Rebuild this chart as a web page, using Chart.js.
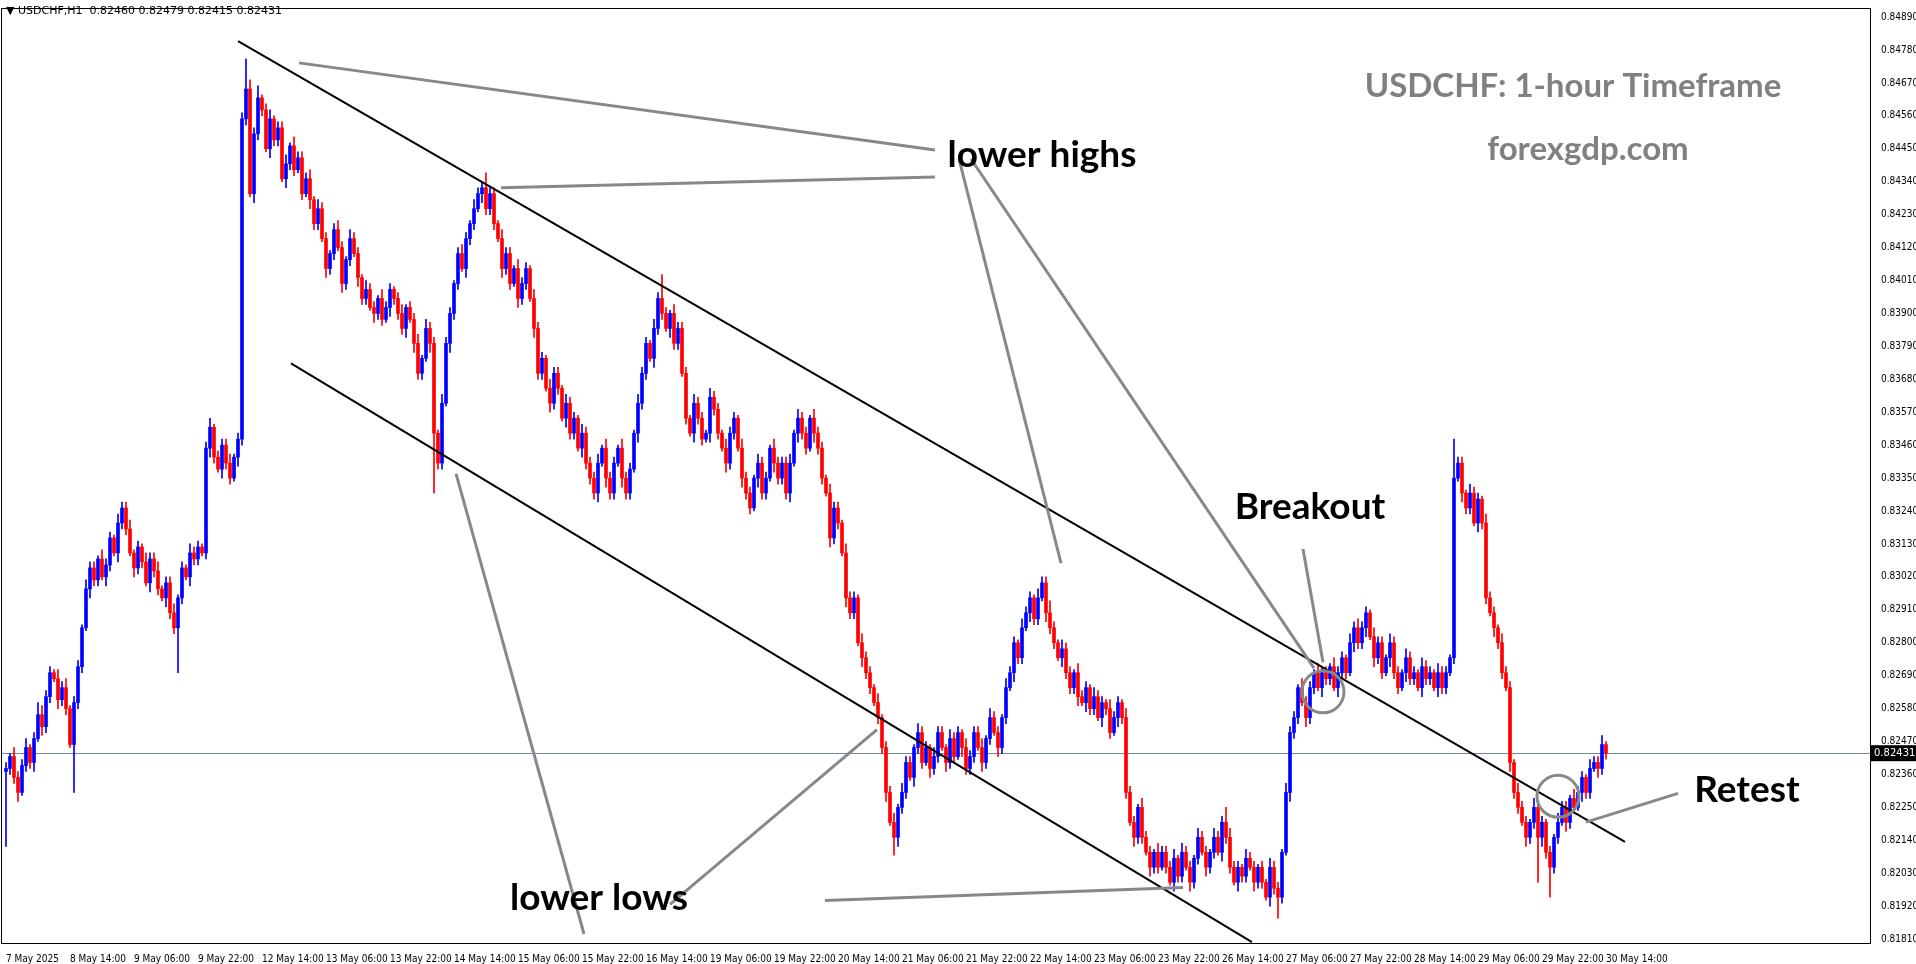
<!DOCTYPE html>
<html><head><meta charset="utf-8">
<script src="https://cdn.jsdelivr.net/npm/chart.js@4"></script>
<style>html,body{margin:0;padding:0;background:#fff;overflow:hidden}canvas{display:block}</style>
</head><body>
<canvas id="c" width="1916" height="964"></canvas>
<script>
// Closes (x 1e-5), one per hourly bar, 7 May 22:00 .. 30 May 14:00
const firstOpen = 82370;
const closes = [
82380,82420,
82350,82300,82390,82450,82400,82480,82560,82520,82620,82700,82680,82610,82650,82580,82460,82600,82720,82850,82980,83050,83010,83080,83020,83060,
83150,83100,83200,83250,83180,83100,83050,83120,83070,83000,83080,83040,82980,82950,83000,82900,82850,82950,83050,83020,83100,83080,83120,83100,
83450,83520,83420,83380,83460,83400,83350,83420,83480,84550,84650,84300,84500,84620,84580,84450,84550,84480,84520,84350,84400,84460,84380,84420,
84300,84350,84280,84200,84250,84150,84050,84100,84180,84120,84000,84080,84150,84100,84020,83950,83980,83920,83900,83950,83880,83920,83980,83950,
83900,83850,83920,83880,83800,83700,83750,83850,83800,83500,83400,83600,83800,83900,84000,84100,84050,84150,84200,84250,84300,84320,84250,84300,
84200,84150,84050,84100,84000,84050,83950,84000,84050,83950,83850,83700,83750,83650,83600,83700,83650,83550,83600,83500,83550,83450,83500,83400,
83350,83300,83400,83450,83350,83300,83400,83450,83350,83300,83380,83500,83600,83700,83800,83750,83850,83950,83900,83850,83900,83800,83850,83700,
83550,83500,83600,83550,83480,83500,83620,83580,83500,83450,83400,83500,83550,83450,83350,83300,83250,83350,83400,83300,83350,83450,83400,83350,
83400,83300,83400,83500,83550,83500,83450,83550,83500,83450,83350,83300,83150,83250,83200,83100,82950,82900,82950,82800,82750,82700,82650,82600,
82550,82450,82300,82200,82150,82250,82300,82400,82350,82450,82500,82400,82450,82380,82420,82500,82450,82400,82480,82420,82500,82450,82380,82420,
82500,82450,82400,82480,82550,82500,82450,82550,82650,82700,82800,82750,82850,82900,82950,82880,82950,83000,82900,82850,82800,82750,82780,82700,
82650,82700,82620,82600,82650,82580,82620,82550,82600,82580,82500,82550,82600,82550,82300,82200,82150,82250,82150,82100,82050,82100,82050,82100,
82050,82000,82080,82020,82100,82050,82000,82080,82150,82100,82050,82100,82150,82100,82200,82150,82050,82000,82050,82020,82080,82050,82000,82050,
82000,81950,82050,81980,81950,82100,82300,82500,82550,82650,82600,82550,82650,82700,82650,82700,82680,82720,82650,82700,82750,82700,82800,82850,
82800,82850,82900,82820,82750,82800,82700,82750,82800,82700,82650,82700,82750,82680,82700,82650,82720,82680,82700,82650,82700,82650,82700,82750,
83350,83400,83300,83250,83300,83200,83280,83200,82950,82900,82850,82800,82700,82650,82400,82300,82250,82200,82150,82200,82250,82150,82200,82100,
82050,82150,82200,82250,82200,82280,82250,82300,82350,82300,82380,82400,82380,82460,82431
];
// wick lengths in pips (base-36 digits)
const upWicks = "21"+"322312432213231221322132"+"213223121322312231213221"+"2312223122a3241231223132"+"223132212321322132213221"+"231223132213221232132252"+"213221322132213221322132"+"223132213221322132821322"+"213221322132213221322132"+"223132213221322132213221"+"312231322132213221322132"+"223132213221322132242132"+"213221322132213221322132"+"223132213221322532213221"+"213221322132213221322132"+"322132213221322132213221"+"d22132213221322132213221"+"213221322132231";
const downWicks = "p2"+"231223132213221g22132213"+"21322132213221322f213221"+"232132213221322132213221"+"213221322132213221322132"+"223132213k22132213221322"+"213221322132213221322132"+"223132213221322132213221"+"213221322132213221322132"+"223132213221322132213221"+"223163221322132213221322"+"213221322132213221322132"+"223132213221322132213221"+"213221322132213221322132"+"213272132213221322132213"+"223132213221322132213221"+"213221322132213221322f32"+"a22132213221322";
const xTickLabels = ["7 May 2025","8 May 14:00","9 May 06:00","9 May 22:00","12 May 14:00","13 May 06:00","13 May 22:00","14 May 14:00","15 May 06:00","15 May 22:00","16 May 14:00","19 May 06:00","19 May 22:00","20 May 14:00","21 May 06:00","21 May 22:00","22 May 14:00","23 May 06:00","23 May 22:00","26 May 14:00","27 May 06:00","27 May 22:00","28 May 14:00","29 May 06:00","29 May 22:00","30 May 14:00"];
const yTickValues = [0.81810,0.81920,0.82030,0.82140,0.82250,0.82360,0.82470,0.82580,0.82690,0.82800,0.82910,0.83020,0.83130,0.83240,0.83350,0.83460,0.83570,0.83680,0.83790,0.83900,0.84010,0.84120,0.84230,0.84340,0.84450,0.84560,0.84670,0.84780,0.84890];
const lastPrice = 0.82431;

const bodies=[], wicks=[], cols=[];
for(let i=0;i<closes.length;i++){
  const o=(i===0?firstOpen:closes[i-1])/1e5, c=closes[i]/1e5;
  const up=parseInt(upWicks[i]||'0',36)/1e4, dn=parseInt(downWicks[i]||'0',36)/1e4;
  bodies.push({x:i,y:[o,c]});
  wicks.push({x:i,y:[Math.min(o,c)-dn,Math.max(o,c)+up]});
  cols.push(c>o?'#0000ff':(c<o?'#ff0000':'#000000'));
}

const channels=[[58,0.84810,404.75,0.82135],[71.25,0.83733,311.5,0.81800]];
const pointers=[[73.25,0.84737,232.25,0.84446],[123.75,0.84320,232.25,0.84356],[238.25,0.84416,263.75,0.83066],[241.25,0.84416,327,0.82715],[112.5,0.83365,144.5,0.81827],[166,0.81926,217.75,0.82510],[204.75,0.81939,294.25,0.81982],[324.25,0.83113,329.25,0.82735],[395,0.82201,418,0.82297]];
const circles=[[329.25,0.82636],[388,0.82287]];

const deco={id:'deco',
 beforeDatasetsDraw(ch){const {ctx,chartArea:a,scales:{y}}=ch;const py=Math.round(y.getPixelForValue(lastPrice))+0.5;
  ctx.save();ctx.strokeStyle='#778899';ctx.lineWidth=1;ctx.beginPath();ctx.moveTo(a.left,py);ctx.lineTo(a.right,py);ctx.stroke();ctx.restore();},
 afterDatasetsDraw(ch){const {ctx,chartArea:a,scales:{x,y}}=ch;ctx.save();
  ctx.beginPath();ctx.rect(a.left,a.top,a.right-a.left,a.bottom-a.top);ctx.clip();
  ctx.strokeStyle='#000';ctx.lineWidth=2;
  channels.forEach(l=>{ctx.beginPath();ctx.moveTo(x.getPixelForValue(l[0]),y.getPixelForValue(l[1]));ctx.lineTo(x.getPixelForValue(l[2]),y.getPixelForValue(l[3]));ctx.stroke();});
  ctx.strokeStyle='#888';ctx.lineWidth=3;
  pointers.forEach(l=>{ctx.beginPath();ctx.moveTo(x.getPixelForValue(l[0]),y.getPixelForValue(l[1]));ctx.lineTo(x.getPixelForValue(l[2]),y.getPixelForValue(l[3]));ctx.stroke();});
  circles.forEach(c=>{ctx.beginPath();ctx.arc(x.getPixelForValue(c[0]),y.getPixelForValue(c[1]),21,0,Math.PI*2);ctx.stroke();});
  ctx.textAlign='center';ctx.textBaseline='middle';
  ctx.fillStyle='#000';ctx.font='bold 37px Lato, "Open Sans", sans-serif';
  ctx.fillText('lower highs',1042,155);ctx.fillText('Breakout',1310,507);ctx.fillText('Retest',1747,790);ctx.fillText('lower lows',599,898);
  ctx.fillStyle='#808080';ctx.font='bold 33px Lato, "Open Sans", sans-serif';
  ctx.fillText('USDCHF: 1-hour Timeframe',1573,86);ctx.fillText('forexgdp.com',1588,149);
  ctx.restore();
  ctx.save();ctx.font='11px "DejaVu Sans", sans-serif';ctx.fillStyle='#000';ctx.textBaseline='middle';
  ctx.fillText('\u25BC USDCHF,H1  0.82460 0.82479 0.82415 0.82431',6,11);
  const py=y.getPixelForValue(lastPrice);ctx.fillStyle='#000';ctx.fillRect(a.right+1,py-8,45,16);
  ctx.fillStyle='#fff';ctx.font='10px "DejaVu Sans", sans-serif';ctx.fillText(lastPrice.toFixed(5),a.right+4,py);
  ctx.strokeStyle='#000';ctx.lineWidth=1;ctx.strokeRect(a.left-0.5,a.top-0.5,a.right-a.left+1,a.bottom-a.top+1);
  ctx.restore();}
};

new Chart(document.getElementById('c'),{
 type:'bar',
 data:{datasets:[
  {data:wicks,backgroundColor:cols,borderWidth:0,barThickness:1,grouped:false,order:2},
  {data:bodies,backgroundColor:cols,borderWidth:0,barThickness:3,minBarLength:1,grouped:false,order:1}
 ]},
 options:{responsive:false,animation:false,devicePixelRatio:1,
  layout:{padding:{left:2,top:2,right:0,bottom:0}},
  plugins:{legend:{display:false},tooltip:{enabled:false}},
  scales:{
   x:{type:'linear',min:-1,max:466,offset:false,
     grid:{display:false,drawTicks:true},border:{display:false},
     afterBuildTicks(s){s.ticks=xTickLabels.map((_,k)=>({value:k*16}));},
     afterFit(s){s.height=21;},
     ticks:{autoSkip:false,maxRotation:0,align:'start',padding:2,color:'#000',font:{family:'"DejaVu Sans Condensed","DejaVu Sans",sans-serif',size:10},
       callback(v){const k=Math.round(v/16);return xTickLabels[k]||'';}}},
   y:{position:'right',min:0.81797,max:0.84917,
     grid:{display:false},border:{display:false},
     afterBuildTicks(s){s.ticks=yTickValues.map(v=>({value:v}));},
     afterFit(s){s.width=46;},
     ticks:{autoSkip:false,padding:3,color:'#000',font:{family:'"DejaVu Sans Condensed","DejaVu Sans",sans-serif',size:10},callback(v){return v.toFixed(5);}}}
  }},
 plugins:[deco]
});
</script>
</body></html>
